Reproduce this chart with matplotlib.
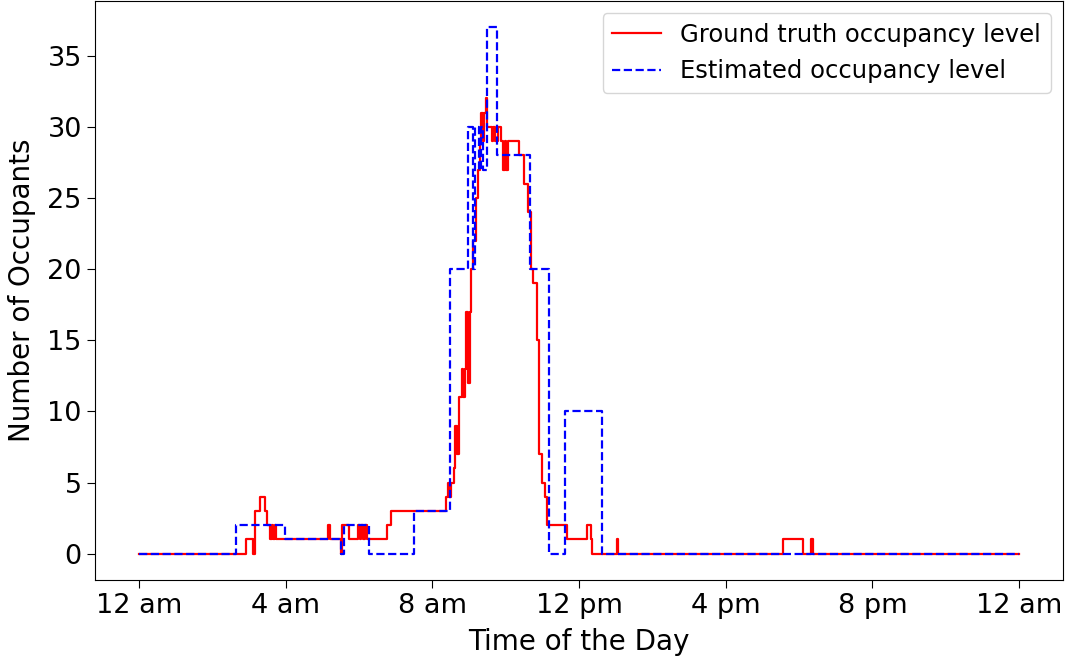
import matplotlib
matplotlib.use("Agg")
import matplotlib.pyplot as plt
import numpy as np

# hours of the day where the level changes, and the level from there on
truth_hours = [0, 2.92, 3.1, 3.15, 3.3, 3.43, 3.5, 3.58, 3.62, 3.66, 3.7, 3.74,
               5.15, 5.2, 5.5, 5.54, 5.72, 5.97, 6.02, 6.06, 6.12, 6.16, 6.22,
               6.76, 6.87, 8.37, 8.42, 8.46, 8.5, 8.58, 8.63, 8.68, 8.74, 8.8,
               8.84, 8.88, 8.92, 8.96, 9.02, 9.06, 9.12, 9.18, 9.24, 9.3, 9.34,
               9.38, 9.42, 9.46, 9.5, 9.62, 9.66, 9.72, 9.78, 9.86, 9.94, 9.98,
               10.02, 10.06, 10.35, 10.5, 10.6, 10.7, 10.75, 10.86, 10.9, 10.98,
               11.08, 11.12, 11.68, 12.22, 12.32, 12.36, 13.03, 13.07, 17.55,
               18.12, 18.33, 18.38, 24]
truth_level = [0, 1, 0, 3, 4, 3, 2, 1, 2, 1, 2, 1,
               2, 1, 0, 2, 1, 2, 1, 2, 1, 2, 1,
               2, 3, 4, 5, 4, 5, 6, 9, 7, 11, 13,
               11, 13, 17, 12, 17, 20, 22, 25, 27, 29, 31,
               29, 31, 32, 30, 29, 30, 29, 30, 29, 27, 29,
               27, 29, 28, 26, 24, 20, 19, 15, 7, 5,
               4, 2, 1, 2, 1, 0, 1, 0, 1,
               0, 1, 0, 0]

est_hours = [0, 2.64, 3.98, 5.5, 5.6, 6.27, 7.5, 8.47, 8.98, 9.1, 9.16, 9.26,
             9.32, 9.38, 9.48, 9.75, 10.65, 11.17, 11.63, 12.64, 24]
est_level = [0, 2, 1, 0, 2, 0, 3, 20, 30, 20, 30, 27,
             30, 27, 37, 28, 20, 0, 10, 0, 0]

tick_hours = [0, 4, 8, 12, 16, 20, 24]
tick_labels = ["12 am", "4 am", "8 am", "12 pm", "4 pm", "8 pm", "12 am"]

fig = plt.figure(figsize=(10.68, 6.59), dpi=100)
ax = fig.add_axes([95 / 1068, 79 / 659, 968 / 1068, 579 / 659])

ax.plot(truth_hours, truth_level, color="red", drawstyle="steps-post",
        linewidth=1.6, label="Ground truth occupancy level")
ax.plot(est_hours, est_level, color="blue", linestyle="--", drawstyle="steps-post",
        linewidth=1.6, label="Estimated occupancy level")

ax.set_xticks(tick_hours)
ax.set_xticklabels(tick_labels)
ax.tick_params(labelsize=19.5, length=6)
ax.set_xlabel("Time of the Day", fontsize=20, labelpad=6)
ax.set_ylabel("Number of Occupants", fontsize=20, labelpad=8)
ax.legend(loc="upper right", fontsize=17.5)

fig.savefig("out.png", dpi=100)
